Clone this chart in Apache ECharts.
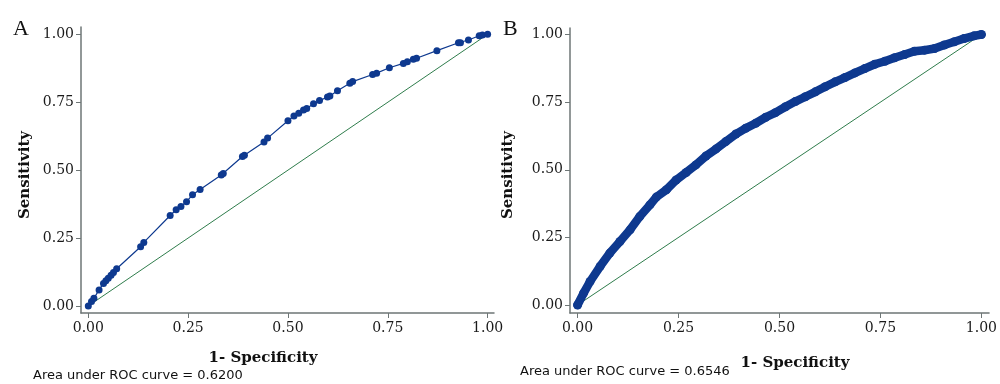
<!DOCTYPE html>
<html>
<head>
<meta charset="utf-8">
<script src="https://cdn.jsdelivr.net/npm/echarts@6/dist/echarts.min.js"></script>
<style>html,body{margin:0;padding:0;background:#fff}#c{width:1000px;height:384px}</style>
</head>
<body>
<div id="c"></div>
<script>
// Panel A: 1 - specificity (x) and sensitivity (y)
const rocA_x = [0, 0.008, 0.014, 0.027, 0.038, 0.044, 0.05, 0.057, 0.063, 0.071, 0.131, 0.139, 0.205, 0.22, 0.232, 0.246, 0.261, 0.28, 0.333, 0.338, 0.386, 0.391, 0.44, 0.449, 0.5, 0.515, 0.527, 0.539, 0.547, 0.564, 0.579, 0.599, 0.605, 0.624, 0.655, 0.662, 0.712, 0.722, 0.754, 0.789, 0.799, 0.814, 0.822, 0.873, 0.927, 0.932, 0.952, 0.979, 0.987, 1];
const rocA_y = [0, 0.016, 0.028, 0.059, 0.083, 0.093, 0.102, 0.113, 0.123, 0.137, 0.218, 0.234, 0.333, 0.354, 0.366, 0.384, 0.409, 0.429, 0.482, 0.488, 0.55, 0.555, 0.604, 0.618, 0.682, 0.699, 0.709, 0.721, 0.727, 0.744, 0.756, 0.769, 0.773, 0.792, 0.82, 0.826, 0.852, 0.857, 0.877, 0.893, 0.899, 0.908, 0.912, 0.94, 0.969, 0.969, 0.979, 0.995, 0.998, 1];
// Panel B
const rocB_x = [0, 0.015, 0.031, 0.056, 0.08, 0.105, 0.13, 0.154, 0.179, 0.195, 0.22, 0.244, 0.269, 0.293, 0.318, 0.343, 0.367, 0.392, 0.416, 0.441, 0.466, 0.49, 0.515, 0.539, 0.564, 0.589, 0.613, 0.638, 0.662, 0.687, 0.711, 0.736, 0.761, 0.785, 0.81, 0.834, 0.859, 0.884, 0.908, 0.933, 0.957, 0.982, 1];
const rocB_y = [0, 0.044, 0.087, 0.143, 0.192, 0.235, 0.278, 0.327, 0.37, 0.399, 0.426, 0.462, 0.49, 0.518, 0.551, 0.577, 0.604, 0.632, 0.653, 0.672, 0.694, 0.711, 0.733, 0.752, 0.77, 0.788, 0.807, 0.825, 0.841, 0.858, 0.874, 0.89, 0.901, 0.914, 0.926, 0.938, 0.942, 0.948, 0.961, 0.973, 0.985, 0.995, 1];
const refLine_x = [0, 1];
const refLine_y = [0, 1];
const tickValues = [0, 0.25, 0.5, 0.75, 1];
const aucA = 'Area under ROC curve = 0.6200';
const aucB = 'Area under ROC curve = 0.6546';

const zip = (a, b) => a.map((v, i) => [v, b[i]]);
const NAVY = '#0e398f';
const GREEN = '#2f7d4c';
const AXIS = '#6e7676';
const SERIF = '"DejaVu Serif", serif';

function xAx(gi, min, max) {
  return {
    type: 'value', gridIndex: gi, min: min, max: max,
    splitLine: {show: false},
    axisLine: {show: true, onZero: false, lineStyle: {color: AXIS, width: 1.5}},
    axisTick: {show: true, customValues: tickValues, length: 5, lineStyle: {color: AXIS, width: 1}},
    axisLabel: {customValues: tickValues, formatter: v => v.toFixed(2), color: '#1a1a1a', fontFamily: SERIF, fontSize: 14, margin: 8}
  };
}
function yAx(gi, min, max) {
  return {
    type: 'value', gridIndex: gi, min: min, max: max,
    splitLine: {show: false},
    axisLine: {show: true, onZero: false, lineStyle: {color: AXIS, width: 1.5}},
    axisTick: {show: true, customValues: tickValues, length: 5, lineStyle: {color: AXIS, width: 1}},
    axisLabel: {customValues: tickValues, formatter: v => v.toFixed(2), color: '#1a1a1a', fontFamily: SERIF, fontSize: 14, margin: 7}
  };
}

const chart = echarts.init(document.getElementById('c'), null, {renderer: 'canvas'});
chart.setOption({
  animation: false,
  backgroundColor: '#fff',
  grid: [
    {left: 81, top: 27, width: 413, height: 286},
    {left: 570, top: 28, width: 422, height: 285}
  ],
  xAxis: [xAx(0, -0.0183, 1.016), xAx(1, -0.0187, 1.019)],
  yAxis: [yAx(0, -0.026, 1.027), yAx(1, -0.0295, 1.024)],
  series: [
    {type: 'line', xAxisIndex: 0, yAxisIndex: 0, data: zip(refLine_x, refLine_y), showSymbol: false, lineStyle: {color: GREEN, width: 1}, z: 1},
    {type: 'line', xAxisIndex: 0, yAxisIndex: 0, data: zip(rocA_x, rocA_y), symbol: 'circle', symbolSize: 7, itemStyle: {color: NAVY}, lineStyle: {color: NAVY, width: 1.2}, z: 2},
    {type: 'line', xAxisIndex: 1, yAxisIndex: 1, data: zip(refLine_x, refLine_y), showSymbol: false, lineStyle: {color: GREEN, width: 1}, z: 1},
    {type: 'line', xAxisIndex: 1, yAxisIndex: 1, data: zip(rocB_x, rocB_y), symbol: 'circle', symbolSize: 9, itemStyle: {color: NAVY}, lineStyle: {color: NAVY, width: 8.5, cap: 'round', join: 'round'}, z: 2}
  ],
  graphic: [
    {type: 'text', left: 13, top: 18, style: {text: 'A', font: '22px "Liberation Serif", serif', fill: '#111'}},
    {type: 'text', left: 503, top: 18, style: {text: 'B', font: '22px "Liberation Serif", serif', fill: '#111'}},
    {type: 'text', x: 25, y: 175, rotation: Math.PI / 2, style: {text: 'Sensitivity', font: 'bold 15px "DejaVu Serif", serif', fill: '#111', align: 'center', verticalAlign: 'middle'}},
    {type: 'text', x: 508, y: 175, rotation: Math.PI / 2, style: {text: 'Sensitivity', font: 'bold 15px "DejaVu Serif", serif', fill: '#111', align: 'center', verticalAlign: 'middle'}},
    {type: 'text', x: 263, y: 358, style: {text: '1- Specificity', font: 'bold 15px "DejaVu Serif", serif', fill: '#111', align: 'center', verticalAlign: 'middle'}},
    {type: 'text', x: 795, y: 363, style: {text: '1- Specificity', font: 'bold 15px "DejaVu Serif", serif', fill: '#111', align: 'center', verticalAlign: 'middle'}},
    {type: 'text', x: 33, y: 376, style: {text: aucA, font: '13px "DejaVu Sans", sans-serif', fill: '#111', align: 'left', verticalAlign: 'middle'}},
    {type: 'text', x: 520, y: 372, style: {text: aucB, font: '13px "DejaVu Sans", sans-serif', fill: '#111', align: 'left', verticalAlign: 'middle'}}
  ]
});
</script>
</body>
</html>
